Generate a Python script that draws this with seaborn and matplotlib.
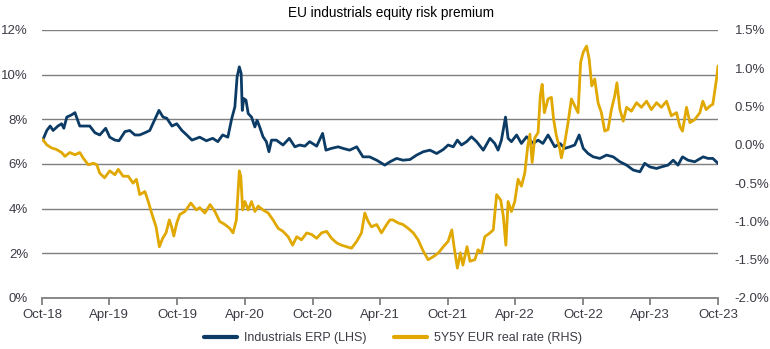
import matplotlib
matplotlib.use("Agg")
import matplotlib.pyplot as plt
from matplotlib.ticker import FuncFormatter
import seaborn as sns
import pandas as pd

sns.set_style("white")
plt.rcParams['font.family'] = ['Liberation Sans', 'DejaVu Sans']

title = "EU industrials equity risk premium"
erp_label = "Industrials ERP (LHS)"
rate_label = "5Y5Y EUR real rate (RHS)"

erp_dates = [
    "2018-10-03", "2018-10-14", "2018-10-23", "2018-10-31", "2018-11-13", "2018-11-23", "2018-11-29",
    "2018-12-07", "2018-12-20", "2018-12-29", "2019-01-11", "2019-01-25", "2019-02-07", "2019-02-21",
    "2019-03-06", "2019-03-22", "2019-04-02", "2019-04-16", "2019-04-27", "2019-05-13", "2019-05-26",
    "2019-06-09", "2019-06-22", "2019-07-06", "2019-07-19", "2019-08-02", "2019-08-13", "2019-08-24",
    "2019-09-03", "2019-09-17", "2019-09-30", "2019-10-14", "2019-10-27", "2019-11-10", "2019-11-23",
    "2019-12-01", "2019-12-19", "2020-01-05", "2020-01-19", "2020-02-01", "2020-02-15", "2020-02-25",
    "2020-03-05", "2020-03-11", "2020-03-17", "2020-03-22", "2020-03-25", "2020-03-29", "2020-04-04",
    "2020-04-10", "2020-04-19", "2020-04-28", "2020-05-04", "2020-05-11", "2020-05-20", "2020-05-29",
    "2020-06-05", "2020-06-12", "2020-06-25", "2020-07-13", "2020-07-30", "2020-08-14", "2020-08-27",
    "2020-09-10", "2020-09-23", "2020-10-12", "2020-10-28", "2020-11-06", "2020-11-21", "2020-12-09",
    "2020-12-22", "2021-01-09", "2021-01-28", "2021-02-14", "2021-03-04", "2021-03-23", "2021-04-14",
    "2021-04-28", "2021-05-16", "2021-06-02", "2021-06-21", "2021-07-09", "2021-07-27", "2021-08-14",
    "2021-09-01", "2021-09-19", "2021-10-02", "2021-10-16", "2021-10-27", "2021-11-07", "2021-11-21",
    "2021-12-04", "2021-12-18", "2022-01-05", "2022-01-23", "2022-02-05", "2022-02-14", "2022-02-23",
    "2022-03-06", "2022-03-13", "2022-03-22", "2022-04-05", "2022-04-18", "2022-05-02", "2022-05-20",
    "2022-06-02", "2022-06-15", "2022-06-29", "2022-07-17", "2022-07-31", "2022-08-13", "2022-08-27",
    "2022-09-09", "2022-09-21", "2022-10-02", "2022-10-15", "2022-10-29", "2022-11-16", "2022-12-04",
    "2022-12-22", "2023-01-09", "2023-01-27", "2023-02-14", "2023-03-04", "2023-03-17", "2023-03-31",
    "2023-04-18", "2023-05-01", "2023-05-19", "2023-06-02", "2023-06-15", "2023-06-27", "2023-07-12",
    "2023-07-30", "2023-08-22", "2023-09-04", "2023-09-17", "2023-10-01",
]
erp_values = [
    7.07, 7.5, 7.7, 7.5, 7.7, 7.8, 7.6,
    8.1, 8.2, 8.3, 7.7, 7.7, 7.7, 7.4,
    7.3, 7.6, 7.2, 7.07, 7.04, 7.45, 7.5,
    7.3, 7.3, 7.4, 7.5, 8.0, 8.4, 8.1,
    8.05, 7.7, 7.8, 7.5, 7.3, 7.07, 7.15,
    7.2, 7.04, 7.15, 7.0, 7.3, 7.2, 8.0,
    8.56, 9.9, 10.35, 10.05, 8.4, 8.93, 8.86,
    8.26, 8.1, 7.66, 7.96, 7.66, 7.22, 7.0,
    6.55, 7.07, 7.07, 6.85, 7.15, 6.77, 6.85,
    6.8, 7.0, 6.8, 7.37, 6.62, 6.7, 6.77,
    6.7, 6.62, 6.77, 6.32, 6.32, 6.17, 5.95,
    6.1, 6.25, 6.17, 6.2, 6.4, 6.55, 6.62,
    6.47, 6.65, 6.85, 6.77, 7.07, 6.85, 7.0,
    7.22, 7.0, 6.62, 7.15, 6.92, 6.62, 7.07,
    8.1, 7.15, 7.0, 7.3, 6.92, 7.22, 6.92,
    7.07, 6.92, 7.3, 6.77, 6.92, 6.7, 6.77,
    6.85, 7.3, 6.7, 6.47, 6.32, 6.25, 6.4,
    6.32, 6.1, 5.95, 5.73, 5.65, 6.03, 5.87,
    5.8, 5.87, 5.95, 6.17, 5.95, 6.32, 6.17,
    6.1, 6.32, 6.25, 6.25, 6.03,
]

rate_dates = [
    "2018-10-03", "2018-10-14", "2018-10-27", "2018-11-09", "2018-11-23", "2018-12-02", "2018-12-15",
    "2018-12-29", "2019-01-11", "2019-01-20", "2019-02-03", "2019-02-17", "2019-02-26", "2019-03-06",
    "2019-03-19", "2019-04-02", "2019-04-16", "2019-04-25", "2019-05-08", "2019-05-22", "2019-06-04",
    "2019-06-13", "2019-06-22", "2019-07-06", "2019-07-15", "2019-07-24", "2019-08-05", "2019-08-14",
    "2019-08-23", "2019-09-01", "2019-09-10", "2019-09-16", "2019-09-22", "2019-09-30", "2019-10-08",
    "2019-10-22", "2019-11-07", "2019-11-22", "2019-12-01", "2019-12-15", "2019-12-29", "2020-01-11",
    "2020-01-24", "2020-02-07", "2020-02-20", "2020-02-29", "2020-03-09", "2020-03-17", "2020-03-21",
    "2020-03-26", "2020-04-01", "2020-04-10", "2020-04-19", "2020-04-28", "2020-05-07", "2020-05-20",
    "2020-06-03", "2020-06-16", "2020-06-30", "2020-07-13", "2020-07-27", "2020-08-08", "2020-08-19",
    "2020-09-01", "2020-09-15", "2020-09-28", "2020-10-12", "2020-10-25", "2020-11-08", "2020-11-21",
    "2020-12-05", "2020-12-18", "2021-01-01", "2021-01-14", "2021-01-28", "2021-02-10", "2021-02-19",
    "2021-02-28", "2021-03-09", "2021-03-23", "2021-04-05", "2021-04-19", "2021-04-28", "2021-05-06",
    "2021-05-20", "2021-06-02", "2021-06-16", "2021-06-30", "2021-07-13", "2021-07-27", "2021-08-09",
    "2021-08-23", "2021-09-06", "2021-09-19", "2021-10-02", "2021-10-12", "2021-10-18", "2021-10-27",
    "2021-11-04", "2021-11-11", "2021-11-22", "2021-11-30", "2021-12-13", "2021-12-22", "2021-12-31",
    "2022-01-09", "2022-01-23", "2022-02-01", "2022-02-10", "2022-02-21", "2022-02-28", "2022-03-07",
    "2022-03-13", "2022-03-22", "2022-03-31", "2022-04-09", "2022-04-18", "2022-04-27", "2022-05-05",
    "2022-05-11", "2022-05-17", "2022-05-24", "2022-06-02", "2022-06-08", "2022-06-13", "2022-06-19",
    "2022-06-29", "2022-07-08", "2022-07-14", "2022-07-21", "2022-07-31", "2022-08-04", "2022-08-13",
    "2022-08-22", "2022-08-31", "2022-09-09", "2022-09-18", "2022-09-25", "2022-10-02", "2022-10-11",
    "2022-10-18", "2022-10-25", "2022-11-02", "2022-11-11", "2022-11-20", "2022-11-29", "2022-12-08",
    "2022-12-17", "2022-12-26", "2023-01-01", "2023-01-09", "2023-01-18", "2023-01-27", "2023-02-09",
    "2023-02-23", "2023-03-08", "2023-03-22", "2023-04-04", "2023-04-18", "2023-05-01", "2023-05-15",
    "2023-05-28", "2023-06-11", "2023-06-20", "2023-06-27", "2023-07-08", "2023-07-17", "2023-07-30",
    "2023-08-13", "2023-08-21", "2023-08-30", "2023-09-10", "2023-09-17", "2023-09-27", "2023-10-01",
]
rate_values = [
    0.07, 0.0, -0.04, -0.06, -0.10, -0.15, -0.10,
    -0.13, -0.10, -0.17, -0.26, -0.24, -0.26, -0.37,
    -0.43, -0.34, -0.39, -0.32, -0.41, -0.41, -0.50,
    -0.45, -0.65, -0.61, -0.74, -0.89, -1.07, -1.33,
    -1.22, -1.15, -0.98, -1.07, -1.19, -1.02, -0.91,
    -0.87, -0.76, -0.85, -0.82, -0.89, -0.78, -0.87,
    -1.0, -1.04, -1.09, -1.15, -0.98, -0.34, -0.41,
    -0.85, -0.74, -0.85, -0.74, -0.87, -0.80, -0.85,
    -0.89, -0.98, -1.09, -1.13, -1.20, -1.31, -1.20,
    -1.24, -1.15, -1.17, -1.22, -1.15, -1.13, -1.22,
    -1.28, -1.31, -1.33, -1.35, -1.26, -1.15, -0.89,
    -1.0, -1.07, -1.04, -1.15, -1.04, -0.98, -0.98,
    -1.02, -1.04, -1.09, -1.15, -1.24, -1.39, -1.50,
    -1.46, -1.41, -1.33, -1.26, -1.11, -1.33, -1.61,
    -1.41, -1.57, -1.33, -1.52, -1.50, -1.37, -1.41,
    -1.20, -1.15, -1.11, -0.65, -0.72, -0.93, -1.31,
    -0.74, -0.87, -0.74, -0.45, -0.54, -0.37, -0.02,
    0.14, -0.23, 0.09, 0.16, 0.64, 0.79, 0.42,
    0.60, 0.62, 0.33, 0.13, -0.06, -0.17, 0.03,
    0.29, 0.60, 0.51, 0.42, 1.08, 1.21, 1.29,
    1.12, 0.77, 0.86, 0.55, 0.42, 0.18, 0.20,
    0.46, 0.64, 0.81, 0.46, 0.31, 0.49, 0.44,
    0.55, 0.49, 0.57, 0.46, 0.55, 0.49, 0.57,
    0.38, 0.42, 0.24, 0.18, 0.49, 0.29, 0.33,
    0.42, 0.57, 0.46, 0.51, 0.53, 0.86, 1.03,
]

x_ticks = ["2018-10-01", "2019-04-01", "2019-10-01", "2020-04-01", "2020-10-01", "2021-04-01",
           "2021-10-01", "2022-04-01", "2022-10-01", "2023-04-01", "2023-10-01"]
x_tick_labels = ["Oct-18", "Apr-19", "Oct-19", "Apr-20", "Oct-20", "Apr-21",
                 "Oct-21", "Apr-22", "Oct-22", "Apr-23", "Oct-23"]
left_ticks = [0, 2, 4, 6, 8, 10, 12]
right_ticks = [-2.0, -1.5, -1.0, -0.5, 0.0, 0.5, 1.0, 1.5]

NAVY = "#0c3c66"
GOLD = "#e0a800"
TXT = "#3c3c46"
GRID = "#7f7f7f"

erp_df = pd.DataFrame({"date": pd.to_datetime(erp_dates), "value": erp_values})
rate_df = pd.DataFrame({"date": pd.to_datetime(rate_dates), "value": rate_values})

fig = plt.figure(figsize=(7.7, 3.49), dpi=100)
ax = fig.add_axes([42 / 770, 1 - 298 / 349, 676 / 770, 268 / 349])
ax2 = ax.twinx()

sns.lineplot(data=erp_df, x="date", y="value", ax=ax, color=NAVY, linewidth=2.0, label=erp_label, legend=False)
sns.lineplot(data=rate_df, x="date", y="value", ax=ax2, color=GOLD, linewidth=2.0, label=rate_label, legend=False)

xt = pd.to_datetime(x_ticks)
ax.set_xlim(xt[0], xt[-1])
ax.set_xticks(xt)
ax.set_xticklabels(x_tick_labels)

ax.set_ylim(0, 12)
ax.set_yticks(left_ticks)
ax.yaxis.set_major_formatter(FuncFormatter(lambda v, p: f"{v:.0f}%"))
ax2.set_ylim(-2.0, 1.5)
ax2.set_yticks(right_ticks)
ax2.yaxis.set_major_formatter(FuncFormatter(lambda v, p: f"{v:.1f}%"))

ax.grid(True, axis="y", color=GRID, linewidth=1.0)
ax.grid(False, axis="x")
ax2.grid(False)
ax.set_axisbelow(True)

for a in (ax, ax2):
    for s in ("top", "left", "right", "bottom"):
        a.spines[s].set_visible(False)
    a.set_xlabel("")
    a.set_ylabel("")
ax.spines["bottom"].set_visible(True)
ax.spines["bottom"].set_color(GRID)
ax.spines["bottom"].set_linewidth(1.3)

ax.tick_params(axis="x", which="major", direction="out", length=5, width=1.3, color=GRID,
               labelsize=9.5, labelcolor=TXT, pad=3, bottom=True)
ax.tick_params(axis="y", length=0, labelsize=9.5, labelcolor=TXT, pad=10)
ax2.tick_params(axis="y", length=0, labelsize=9.5, labelcolor=TXT, pad=12)

fig.text(0.508, 1 - 13 / 349, title, ha="center", va="center", fontsize=9.8, color="#000000")

h1, l1 = ax.get_legend_handles_labels()
h2, l2 = ax2.get_legend_handles_labels()
fig.legend(h1 + h2, l1 + l2, loc="center", bbox_to_anchor=(0.51, 1 - 338 / 349), ncol=2, frameon=False,
           fontsize=9, handlelength=2.7, handletextpad=0.5, columnspacing=2.2,
           labelcolor=TXT)
for line in fig.legends[0].get_lines():
    line.set_linewidth(3.0)

fig.savefig("out.png", dpi=100)
